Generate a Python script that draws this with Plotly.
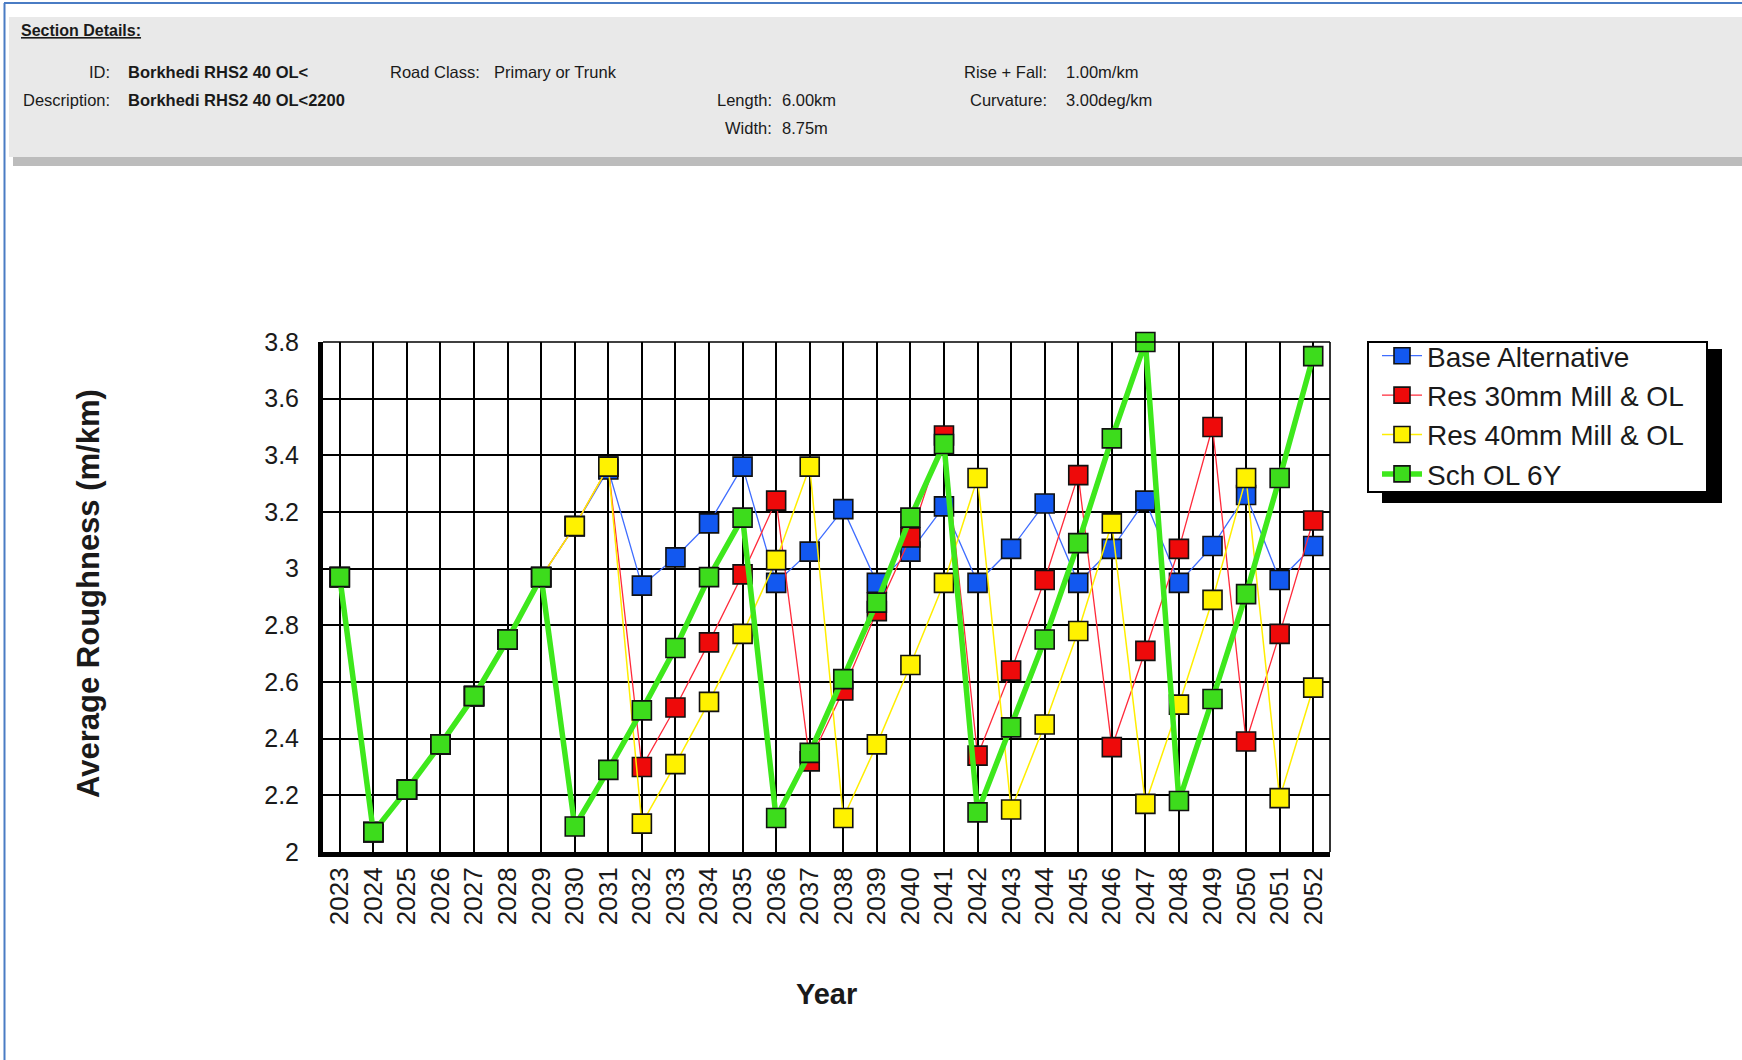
import plotly.graph_objects as go

# ---------------- data ----------------
years = [str(y) for y in range(2023, 2053)]

base_alternative = [2.97, 2.07, 2.22, 2.38, 2.55, 2.75, 2.97, 3.15, 3.35, 2.94,
                    3.04, 3.16, 3.36, 2.95, 3.06, 3.21, 2.95, 3.06, 3.22, 2.95,
                    3.07, 3.23, 2.95, 3.07, 3.24, 2.95, 3.08, 3.26, 2.96, 3.08]

res_30mm = [2.97, 2.07, 2.22, 2.38, 2.55, 2.75, 2.97, 3.15, 3.36, 2.30,
            2.51, 2.74, 2.98, 3.24, 2.32, 2.57, 2.85, 3.11, 3.47, 2.34,
            2.64, 2.96, 3.33, 2.37, 2.71, 3.07, 3.50, 2.39, 2.77, 3.17]

res_40mm = [2.97, 2.07, 2.22, 2.38, 2.55, 2.75, 2.97, 3.15, 3.36, 2.10,
            2.31, 2.53, 2.77, 3.03, 3.36, 2.12, 2.38, 2.66, 2.95, 3.32,
            2.15, 2.45, 2.78, 3.16, 2.17, 2.52, 2.89, 3.32, 2.19, 2.58]

sch_ol_6y = [2.97, 2.07, 2.22, 2.38, 2.55, 2.75, 2.97, 2.09, 2.29, 2.50,
             2.72, 2.97, 3.18, 2.12, 2.35, 2.61, 2.88, 3.18, 3.44, 2.14,
             2.44, 2.75, 3.09, 3.46, 3.80, 2.18, 2.54, 2.91, 3.32, 3.75]

series_names = ["Base Alternative", "Res 30mm Mill & OL", "Res 40mm Mill & OL", "Sch OL 6Y"]

y_ticks = [2.0, 2.2, 2.4, 2.6, 2.8, 3.0, 3.2, 3.4, 3.6, 3.8]
y_tick_labels = ["2", "2.2", "2.4", "2.6", "2.8", "3", "3.2", "3.4", "3.6", "3.8"]

header_labels = ["ID:", "Description:", "Road Class:", "Length:", "Width:", "Rise + Fall:", "Curvature:"]
header_values = ["Borkhedi RHS2 40 OL<", "Borkhedi RHS2 40 OL<2200", "Primary or Trunk",
                 "6.00km", "8.75m", "1.00m/km", "3.00deg/km"]

# ---------------- layout geometry (screen pixels) ----------------
W, H = 1742, 1060
L, R, T, B = 323, 1330, 342, 852  # plot area edges in pixels


def px(x):
    return (x - L) / (R - L)


def py(y):
    return (B - y) / (B - T)


FONT = "Liberation Sans, Arial, sans-serif"
TXT = "#1a1a1a"

styles = [
    dict(line=dict(color="#3f6dff", width=1.3), marker_color="#1258f0"),
    dict(line=dict(color="#ff2a3a", width=1.3), marker_color="#ee0a0a"),
    dict(line=dict(color="#ffee00", width=1.5), marker_color="#fff200"),
    dict(line=dict(color="#3ee81c", width=5.5), marker_color="#3ddc1c"),
]

fig = go.Figure()
for name, vals, st in zip(series_names, [base_alternative, res_30mm, res_40mm, sch_ol_6y], styles):
    fig.add_trace(go.Scatter(
        x=years, y=vals, name=name, mode="lines+markers",
        line=st["line"],
        marker=dict(symbol="square", size=19, color=st["marker_color"],
                    line=dict(color="#111111", width=1.6)),
        cliponaxis=False,
    ))

shapes = []
# outer blue frame lines
shapes.append(dict(type="line", xref="paper", yref="paper", x0=px(4), x1=px(W), y0=py(3), y1=py(3),
                   line=dict(color="#4a7cc4", width=2)))
shapes.append(dict(type="line", xref="paper", yref="paper", x0=px(4.5), x1=px(4.5), y0=py(3), y1=py(H),
                   line=dict(color="#4a7cc4", width=2)))
# header banner
shapes.append(dict(type="rect", xref="paper", yref="paper", x0=px(9), x1=px(W), y0=py(17), y1=py(157),
                   fillcolor="#e9e9e9", line=dict(width=0), layer="below"))
shapes.append(dict(type="rect", xref="paper", yref="paper", x0=px(13), x1=px(W), y0=py(157), y1=py(166),
                   fillcolor="#bcbcbc", line=dict(width=0), layer="below"))
# top and right border of plot
shapes.append(dict(type="line", xref="paper", yref="paper", x0=1, x1=1, y0=0, y1=1,
                   line=dict(color="black", width=1.6)))
shapes.append(dict(type="line", xref="paper", yref="paper", x0=0, x1=1, y0=1, y1=1,
                   line=dict(color="black", width=1.6)))
# legend shadow and box
shapes.append(dict(type="rect", xref="paper", yref="paper", x0=px(1382), x1=px(1722), y0=py(349), y1=py(503),
                   fillcolor="black", line=dict(width=0)))
shapes.append(dict(type="rect", xref="paper", yref="paper", x0=px(1368), x1=px(1707), y0=py(342), y1=py(492),
                   fillcolor="white", line=dict(color="black", width=2)))

annotations = []
annotations.append(dict(text="<b><u>Section Details:</u></b>", x=px(19), y=py(30), xref="paper", yref="paper",
                        xanchor="left", yanchor="middle", showarrow=False,
                        font=dict(family=FONT, size=16, color=TXT)))
label_pos = [(112, 72), (112, 100), (482, 72), (774, 100), (774, 128), (1049, 72), (1049, 100)]
value_pos = [(126, 72), (126, 100), (492, 72), (780, 100), (780, 128), (1064, 72), (1064, 100)]
for i, (lab, val) in enumerate(zip(header_labels, header_values)):
    lx, ly = label_pos[i]
    vx, vy = value_pos[i]
    annotations.append(dict(text=lab, x=px(lx), y=py(ly), xref="paper", yref="paper",
                            xanchor="right", yanchor="middle", showarrow=False,
                            font=dict(family=FONT, size=16.5, color=TXT)))
    vtext = val.replace("<", "&lt;")
    if i < 2:
        vtext = "<b>" + vtext + "</b>"
    annotations.append(dict(text=vtext, x=px(vx), y=py(vy), xref="paper", yref="paper",
                            xanchor="left", yanchor="middle", showarrow=False,
                            font=dict(family=FONT, size=16.5, color=TXT)))

annotations.append(dict(text="<b>Average Roughness (m/km)</b>", x=px(88), y=py(594), xref="paper", yref="paper",
                        xanchor="center", yanchor="middle", textangle=-90, showarrow=False,
                        font=dict(family=FONT, size=31, color=TXT)))
annotations.append(dict(text="<b>Year</b>", x=px(826), y=py(994), xref="paper", yref="paper",
                        xanchor="center", yanchor="middle", showarrow=False,
                        font=dict(family=FONT, size=29, color=TXT)))

fig.update_layout(
    width=W, height=H,
    margin=dict(l=L, r=W - R, t=T, b=H - B, pad=0),
    paper_bgcolor="white", plot_bgcolor="white",
    showlegend=True,
    legend=dict(x=px(1377), y=py(331), xanchor="left", yanchor="top",
                bgcolor="rgba(0,0,0,0)", borderwidth=0,
                font=dict(family=FONT, size=28, color=TXT),
                itemwidth=40, tracegroupgap=0),
    shapes=shapes,
    annotations=annotations,
    xaxis=dict(type="category", range=[-0.5, 29.5], showgrid=True, gridcolor="black", gridwidth=1.6,
               showline=True, linecolor="black", linewidth=5, ticks="", tickangle=-90,
               ticklabelstandoff=0,
               tickfont=dict(family=FONT, size=26, color=TXT), zeroline=False),
    yaxis=dict(range=[2.0, 3.8], tickvals=y_ticks, ticktext=y_tick_labels, showgrid=True,
               gridcolor="black", gridwidth=1.6, showline=True, linecolor="black", linewidth=5,
               ticks="", ticklabelstandoff=14,
               tickfont=dict(family=FONT, size=25, color=TXT), zeroline=False),
)

# remove the default page margin so the figure sits at the window origin
fig.write_html("out.html", config={"displayModeBar": False},
               post_script="document.body.style.margin='0';document.body.style.overflow='hidden';")
